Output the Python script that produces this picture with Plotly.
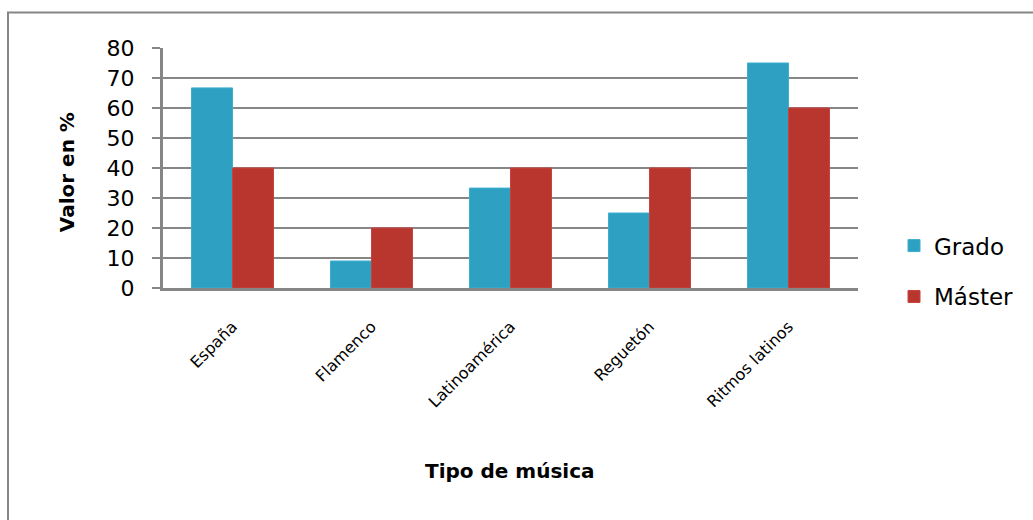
import plotly.graph_objects as go

# Survey results: share of respondents (%) per music type
categorias = ["España", "Flamenco", "Latinoamérica", "Reguetón", "Ritmos latinos"]
grado = [66.7, 9.0, 33.3, 25.0, 75.0]
master = [40.0, 20.0, 40.0, 40.0, 60.0]
y_ticks = [0, 10, 20, 30, 40, 50, 60, 70, 80]

W, H = 1033, 520
L, R, T, B = 163, 858, 47.5, 288
pw, ph = R - L, B - T

def px_x(x):
    return (x - L) / pw

def px_y(y):
    return (B - y) / ph

FONT = "'DejaVu Sans', Lato, sans-serif"
GRID = "#868686"

fig = go.Figure()
fig.add_trace(go.Bar(
    x=categorias, y=grado, name="Grado", legendgroup="g",
    marker=dict(color="#2EA1C2", line=dict(color="#3AAFD0", width=1)),
))
fig.add_trace(go.Bar(
    x=categorias, y=master, name="Máster", legendgroup="m",
    marker=dict(color="#B9362F", line=dict(color="#C8433E", width=1)),
))

fig.update_layout(
    width=W, height=H,
    margin=dict(l=L, r=W - R, t=T, b=H - B, autoexpand=False),
    paper_bgcolor="white", plot_bgcolor="white",
    barmode="group", bargap=0.41, bargroupgap=0,
    font=dict(family=FONT, color="black"),
    showlegend=True,
    legend=dict(
        x=px_x(894), y=px_y(224), xanchor="left", yanchor="top",
        font=dict(size=23, family=FONT), tracegroupgap=18,
        traceorder="grouped", bgcolor="rgba(0,0,0,0)",
        itemwidth=30,
    ),
    xaxis=dict(
        showgrid=False, showline=True, linecolor=GRID, linewidth=3,
        tickangle=-45, tickfont=dict(size=16, family=FONT),
        ticks="", ticklabelstandoff=20, fixedrange=True,
    ),
    yaxis=dict(
        range=[0, 80], tickvals=y_ticks, showgrid=True, gridcolor=GRID, gridwidth=2,
        showline=True, linecolor=GRID, linewidth=3,
        ticks="outside", ticklen=8, tickwidth=2, tickcolor=GRID,
        tickfont=dict(size=22, family=FONT), ticklabelstandoff=13,
        zeroline=False, fixedrange=True,
    ),
    annotations=[
        dict(text="<b>Valor en %</b>", x=px_x(67), y=px_y(172), xref="paper", yref="paper",
             xanchor="center", yanchor="middle",
             textangle=-90, showarrow=False, font=dict(size=20, family=FONT)),
        dict(text="<b>Tipo de música</b>", x=px_x(510), y=px_y(471), xref="paper", yref="paper",
             xanchor="center", yanchor="middle",
             showarrow=False, font=dict(size=20, family=FONT)),
    ],
    shapes=[
        dict(type="rect", xref="paper", yref="paper",
             x0=px_x(8), y0=px_y(12), x1=px_x(W + 20), y1=px_y(H + 20),
             line=dict(color=GRID, width=2), fillcolor="rgba(0,0,0,0)", layer="below"),
    ],
)

fig.write_html("out.html")
